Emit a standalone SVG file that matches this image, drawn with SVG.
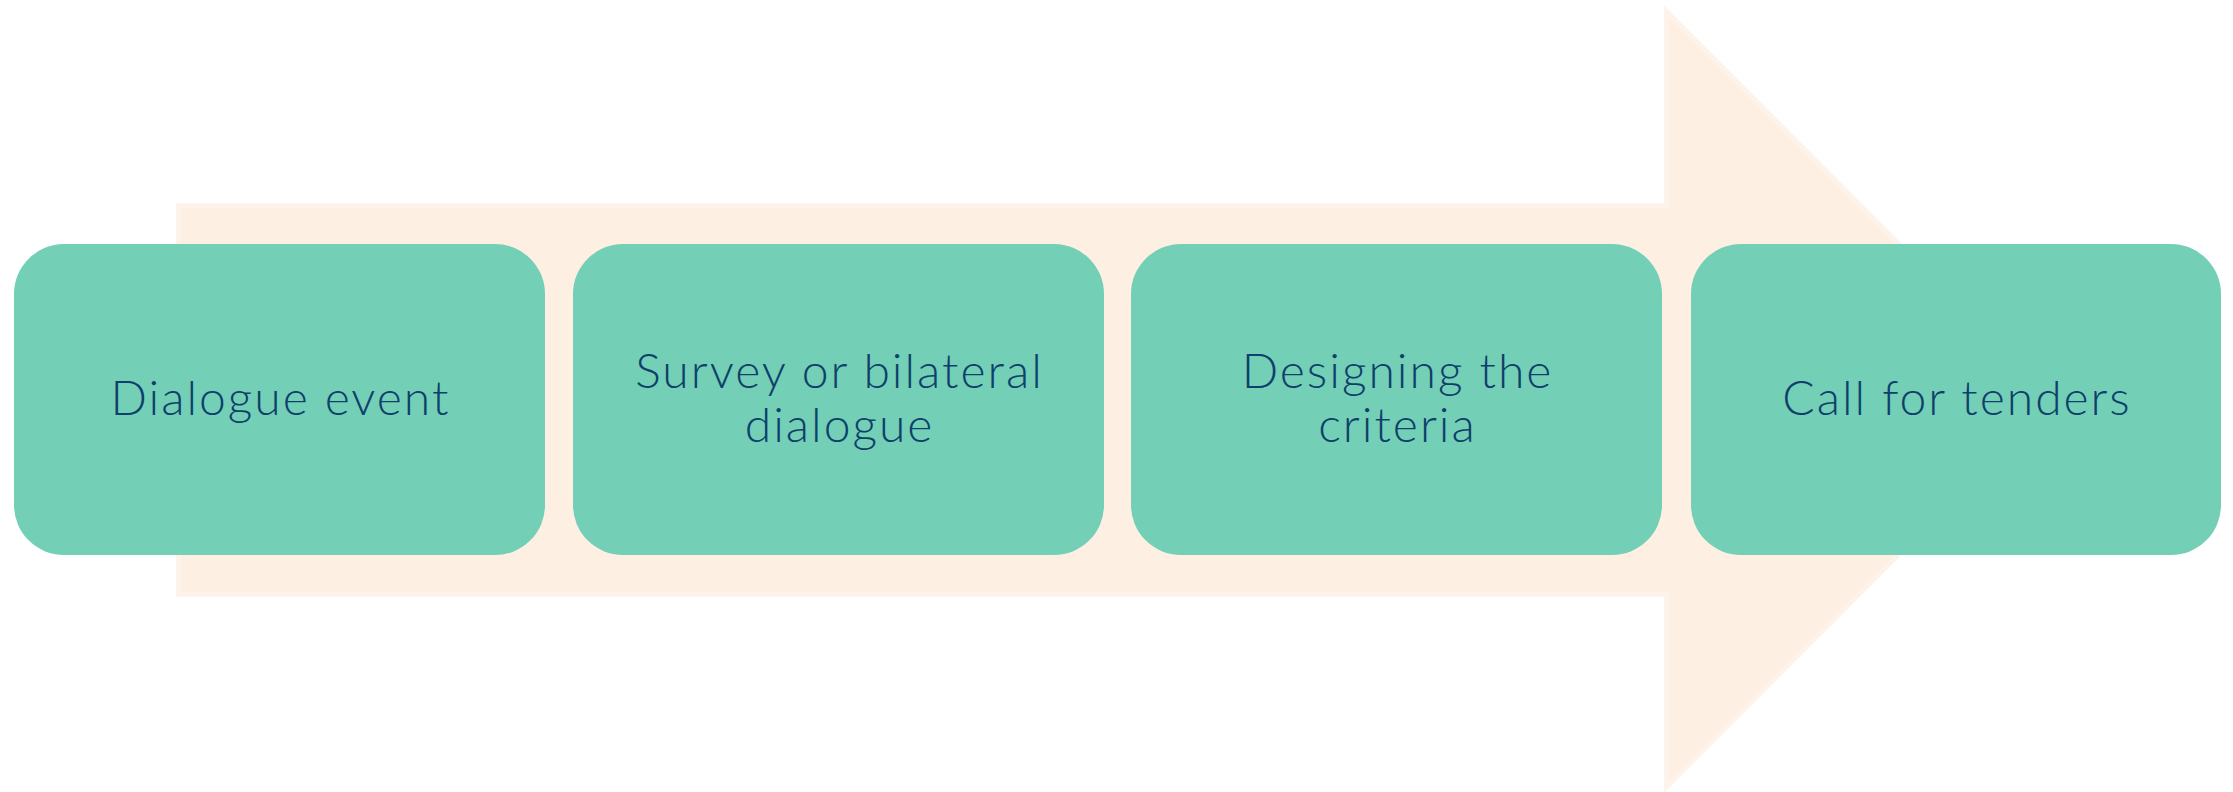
<svg xmlns="http://www.w3.org/2000/svg" width="2233" height="792" viewBox="0 0 2233 792">
<style>
.box{fill:#73CFB5}
.lbl{font-family:Lato,"Open Sans","Liberation Sans",sans-serif;font-weight:300;font-size:48px;letter-spacing:2px;fill:#0F3F6B;text-anchor:middle}
</style>
<rect width="2233" height="792" fill="#ffffff"/>
<g id="arrow">
<polygon points="178.5,205.5 1666.5,205.5 1666.5,11 2053.5,399 1666.5,787 1666.5,594.5 178.5,594.5" fill="#FEEFE3" stroke="#FEF3EA" stroke-width="5"/>
</g>
<g id="connectors"></g>
<g id="node1">
<rect class="box" x="14" y="244" width="531" height="311" rx="50"/>
<text class="lbl" x="280.5" y="415">Dialogue event</text>
</g>
<g id="node2">
<rect class="box" x="573" y="244" width="531" height="311" rx="50"/>
<text class="lbl" x="839.5" y="388">Survey or bilateral</text>
<text class="lbl" x="839.5" y="442">dialogue</text>
</g>
<g id="node3">
<rect class="box" x="1131" y="244" width="531" height="311" rx="50"/>
<text class="lbl" x="1397.5" y="388">Designing the</text>
<text class="lbl" x="1397.5" y="442">criteria</text>
</g>
<g id="node4">
<rect class="box" x="1691" y="244" width="530" height="311" rx="50"/>
<text class="lbl" x="1957" y="415">Call for tenders</text>
</g>
</svg>
